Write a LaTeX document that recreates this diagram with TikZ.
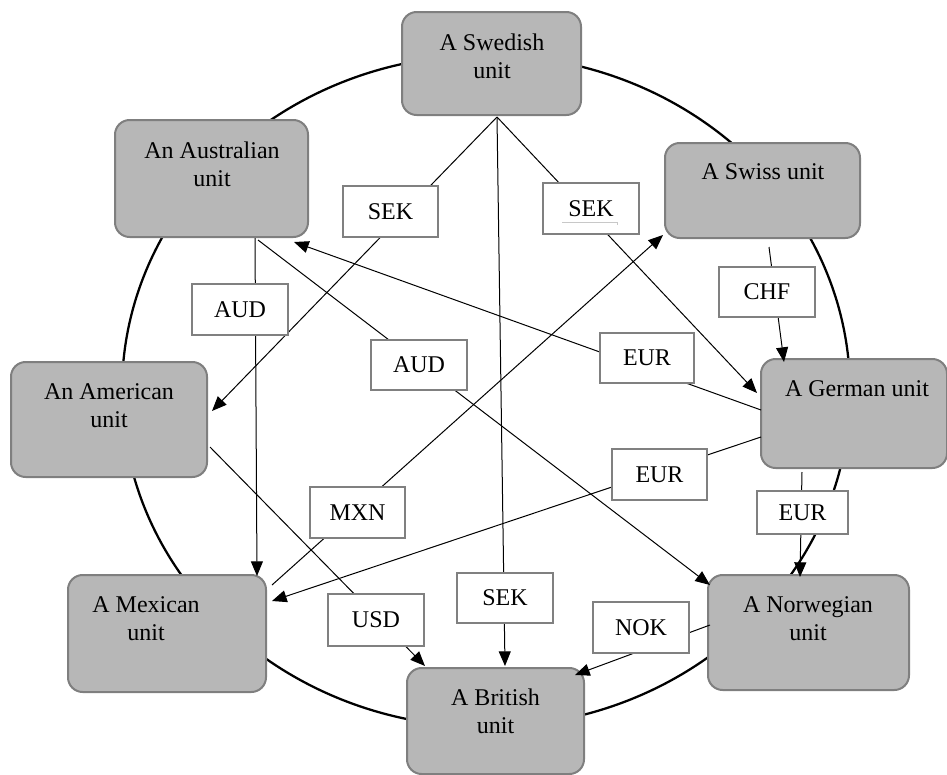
\documentclass[tikz,border=0pt]{standalone}
\usepackage{fontspec}
\setmainfont{Liberation Serif}
\usetikzlibrary{arrows.meta,calc}
\definecolor{unitfill}{HTML}{B7B7B7}
\definecolor{unitedge}{HTML}{7F7F7F}
\definecolor{tagedge}{HTML}{808080}
\definecolor{faint}{HTML}{C8C8C8}

\tikzset{
  unitbox/.style 2 args={draw=unitedge, fill=unitfill, line width=1.5pt,
    rounded corners=11pt, minimum width=#1*0.75pt, minimum height=#2*0.75pt,
    inner sep=0pt},
  unittext/.style={font=\fontsize{18}{21}\selectfont, align=center, inner sep=0pt},
  tag/.style 2 args={draw=tagedge, fill=white, line width=1.5pt,
    minimum width=#1*0.75pt, minimum height=#2*0.75pt, inner sep=0pt,
    font=\fontsize{18}{21}\selectfont},
  flow/.style={line width=0.75pt, -{Triangle[length=11pt,width=9pt]}},
  ring/.style={line width=1.7pt}
}

\begin{document}
\begin{tikzpicture}[x=0.75pt,y=-0.75pt]
\useasboundingbox (0,0) rectangle (947,775);

% the ring joining the units
\draw[ring] (486,391) ellipse [x radius=364, y radius=336];

% units
\node[unitbox={179}{103}] (swe) at (491.5,63.5) {};
\node[unitbox={193}{117}] (aus) at (211.5,178.5) {};
\node[unitbox={195}{95}]  (swi) at (762.5,190.5) {};
\node[unitbox={196}{115}] (ame) at (109,419.5) {};
\node[unitbox={186}{109}] (ger) at (854,413.5) {};
\node[unitbox={198}{117}] (mex) at (167,633.5) {};
\node[unitbox={201}{115}] (nor) at (808.5,632.5) {};
\node[unitbox={177}{106}] (bri) at (495.5,721) {};

\node[unittext] (swe-t) at (492,56)  {A Swedish\\unit};
\node[unittext] (aus-t) at (212,164) {An Australian\\unit};
\node[unittext] (swi-t) at (763,172) {A Swiss unit};
\node[unittext] (ame-t) at (109,406) {An American\\unit};
\node[unittext] (ger-t) at (857,389) {A German unit};
\node[unittext] (mex-t) at (146,619) {A Mexican\\unit};
\node[unittext] (nor-t) at (808,619) {A Norwegian\\unit};
\node[unittext] (bri-t) at (495.5,711) {A British\\unit};

% connector ends
\coordinate (swe-o)  at (497,117);
\coordinate (ame-i)  at (212,411);
\coordinate (ger-i1) at (757,393);
\coordinate (bri-i1) at (505,666);
\coordinate (aus-o1) at (255,238);
\coordinate (mex-i1) at (257,576);
\coordinate (aus-o2) at (258,240);
\coordinate (nor-i1) at (710,585);
\coordinate (ger-o1) at (761,410);
\coordinate (aus-i)  at (294,242);
\coordinate (ger-o2) at (761,437);
\coordinate (mex-i2) at (272,601);
\coordinate (ame-o)  at (210,447);
\coordinate (bri-i2) at (425,666);
\coordinate (mex-o)  at (272,585);
\coordinate (swi-i)  at (663,235);
\coordinate (swi-o)  at (769,247);
\coordinate (ger-i2) at (784,362);
\coordinate (ger-o3) at (802,472);
\coordinate (nor-i2) at (800,577);
\coordinate (nor-o)  at (710,625);
\coordinate (bri-i3) at (575,675);

% payment flows
\draw[flow] (swe-o)  -- (ame-i);
\draw[flow] (swe-o)  -- (ger-i1);
\draw[flow] (swe-o)  -- (bri-i1);
\draw[flow] (aus-o1) -- (mex-i1);
\draw[flow] (aus-o2) -- (nor-i1);
\draw[flow] (ger-o1) -- (aus-i);
\draw[flow] (ger-o2) -- (mex-i2);
\draw[flow] (ame-o)  -- (bri-i2);
\draw[flow] (mex-o)  -- (swi-i);
\draw[flow] (swi-o)  -- (ger-i2);
\draw[flow] (ger-o3) -- (nor-i2);
\draw[flow] (nor-o)  -- (bri-i3);

% currency tags
\node[tag={95}{51}] (sek1) at (390.5,211.5) {SEK};
\node[tag={96}{51}] (sek2) at (591,208.5)   {SEK};
\node[tag={96}{50}] (sek3) at (505,598)     {SEK};
\node[tag={96}{51}] (aud1) at (240,309.5)   {AUD};
\node[tag={96}{50}] (aud2) at (419,365)     {AUD};
\node[tag={94}{50}] (eur1) at (647,358)     {EUR};
\node[tag={95}{51}] (eur2) at (659.5,474.5) {EUR};
\node[tag={91}{43}] (eur3) at (802.5,512.5) {EUR};
\node[tag={96}{50}] (chf)  at (767,292)     {CHF};
\node[tag={95}{51}] (mxn)  at (357.5,512.5) {MXN};
\node[tag={96}{52}] (usd)  at (376,620)     {USD};
\node[tag={96}{51}] (nok)  at (641,627.5)   {NOK};

% faint underline under one tag
\draw[faint, line width=0.75pt] (562,222) -- (617,222) -- (617,225);
\end{tikzpicture}
\end{document}
